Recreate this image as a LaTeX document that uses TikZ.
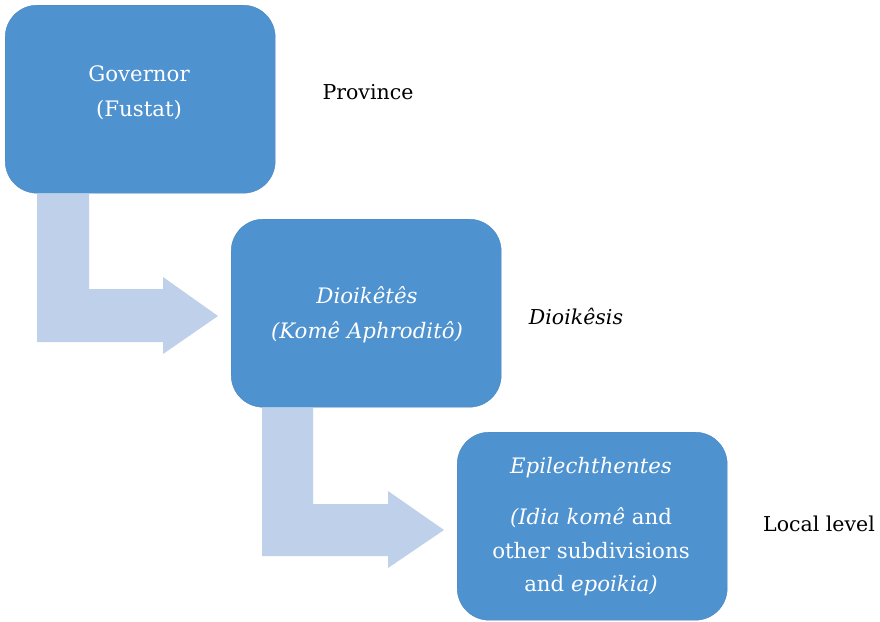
\documentclass[tikz,border=0pt]{standalone}
\usepackage{fontspec}
\setmainfont{DejaVu Serif}
\definecolor{boxblue}{RGB}{79,146,208}
\definecolor{arrowblue}{RGB}{191,209,234}
\begin{document}
\begin{tikzpicture}[x=1pt,y=-1pt,
  box/.style={rectangle,rounded corners=32pt,fill=boxblue,draw=boxblue!92!black,line width=0.4pt,
    minimum width=270pt,minimum height=188pt,inner sep=0pt,anchor=north west},
  intext/.style={text=white,align=center,font=\fontsize{21.3}{35}\selectfont,inner sep=0pt},
  side/.style={text=black,font=\fontsize{20.5}{25}\selectfont,inner sep=0pt},
  blockarrow/.style={fill=arrowblue,draw=none}]
\useasboundingbox (0,0) rectangle (880,621);
\fill[white] (0,0) rectangle (880,621);
% block arrows
\draw[blockarrow] (37,194) -- (89,194) -- (89,289) -- (163,289) -- (163,277) -- (218,316)
  -- (163,354) -- (163,342) -- (37,342) -- cycle;
\draw[blockarrow] (262,408) -- (313,408) -- (313,504) -- (388,504) -- (388,491) -- (444,530)
  -- (388,568) -- (388,556) -- (262,556) -- cycle;
% boxes
\node[box] (b1) at (5,5) {};
\node[box] (b2) at (231,219) {};
\node[box] (b3) at (457,432) {};
% box texts
\node[intext] (t1) at (139,92.5) {Governor\\(Fustat)};
\node[intext] (t2) at (367,315) {\itshape Dioikêtês\\\itshape (Komê Aphroditô)};
\node[intext] (t3a) at (591,468) {\itshape Epilechthentes};
\node[intext,font=\fontsize{21.3}{33.5}\selectfont] (t3b) at (591,552) {\textit{(Idia komê} and\\other subdivisions\\and \textit{epoikia)}};
% side labels
\node[side] (l1) at (368,92) {Province};
\node[side] (l2) at (576,316) {\itshape Dioikêsis};
\node[side] (l3) at (819,524) {Local level};
\end{tikzpicture}
\end{document}
